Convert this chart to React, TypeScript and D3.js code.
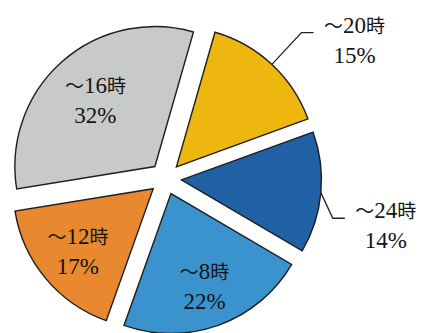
import React from "react";
import * as d3 from "d3";

const categories = ["〜20時", "〜24時", "〜8時", "〜12時", "〜16時"];
const values = [15, 14, 22, 17, 32];
const colors = ["#eeb70f", "#2060a5", "#3a93cc", "#e8892f", "#c8c9c9"];
const outside = [true, true, false, false, false];
const leaderAngleShift = [0, 9, 0, 0, 0];
const leaderRadiusFactor = [1.31, 1.115, 1, 1, 1];
const labelRadiusFactor = [0.67, 0.67, 0.7, 0.7, 0.64];

const W = 423;
const H = 333;
const CX = 165.5;
const CY = 178.5;
const R = 140;
const EXPLODE = 16;
const START = (16 * Math.PI) / 180;

const SERIF = '"Liberation Serif", "Times New Roman", serif';
const CJK = '"Noto Sans CJK JP", sans-serif';

function Label({ x, y, text }: { x: number; y: number; text: string }) {
  const parts = text.match(/[0-9%]+|[^0-9%]+/g) || [];
  return (
    <text x={x} y={y} textAnchor="middle" fill="#151515" fontFamily={SERIF} fontSize={23}>
      {parts.map((p, k) =>
        /[0-9%]/.test(p) ? (
          <tspan key={k} fontFamily={SERIF} fontSize={23}>
            {p}
          </tspan>
        ) : (
          <tspan key={k} fontFamily={CJK} fontSize={19}>
            {p}
          </tspan>
        )
      )}
    </text>
  );
}

export default function App() {
  const pie = d3
    .pie<number>()
    .sort(null)
    .startAngle(START)
    .endAngle(START + 2 * Math.PI);
  const arcs = pie(values);
  const arcGen = d3.arc<d3.PieArcDatum<number>>().innerRadius(0).outerRadius(R);

  return (
    <svg
      width={W}
      height={H}
      style={{ position: "absolute", left: 0, top: 0, background: "#fff" }}
    >
      <g transform={`translate(${CX},${CY})`}>
        {arcs.map((a, i) => {
          const mid = (a.startAngle + a.endAngle) / 2;
          const ox = Math.sin(mid) * EXPLODE;
          const oy = -Math.cos(mid) * EXPLODE;
          let label: React.ReactNode = null;
          if (outside[i]) {
            const la = mid + (leaderAngleShift[i] * Math.PI) / 180;
            const x0 = Math.sin(mid) * R;
            const y0 = -Math.cos(mid) * R;
            const rk = R * leaderRadiusFactor[i];
            const x1 = Math.sin(la) * rk;
            const y1 = -Math.cos(la) * rk;
            const x2 = x1 + 12;
            const tc = x2 + 41;
            label = (
              <g>
                <polyline
                  points={`${x0},${y0} ${x1},${y1} ${x2},${y1}`}
                  fill="none"
                  stroke="#222"
                  strokeWidth={1.3}
                />
                <Label x={tc} y={y1} text={categories[i]} />
                <Label x={tc} y={y1 + 30} text={`${values[i]}%`} />
              </g>
            );
          } else {
            const lr = R * labelRadiusFactor[i];
            const lx = Math.sin(mid) * lr;
            const ly = -Math.cos(mid) * lr;
            label = (
              <g>
                <Label x={lx} y={ly - 7} text={categories[i]} />
                <Label x={lx} y={ly + 23} text={`${values[i]}%`} />
              </g>
            );
          }
          return (
            <g key={categories[i]} transform={`translate(${ox},${oy})`}>
              <path
                d={arcGen(a) || ""}
                fill={colors[i]}
                stroke="#1e1e1e"
                strokeWidth={1.4}
              />
              {label}
            </g>
          );
        })}
      </g>
    </svg>
  );
}
